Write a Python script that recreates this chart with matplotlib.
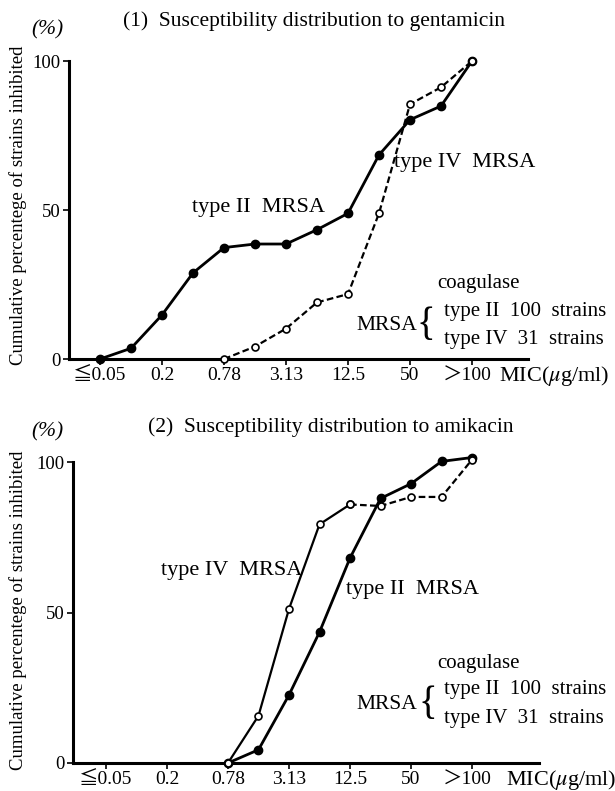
import matplotlib.pyplot as plt
import matplotlib.transforms as mtransforms

plt.rcParams['font.family'] = ['Liberation Serif', 'DejaVu Serif', 'Noto Sans CJK JP']
plt.rcParams['mathtext.fontset'] = 'stix'

# MIC dilution steps (only every second one is labelled)
mic_steps = ["≦0.05", "0.1", "0.2", "0.39", "0.78", "1.56", "3.13",
             "6.25", "12.5", "25", "50", "100", ">100"]
tick_labels = ["≦0.05", "0.2", "0.78", "3.13", "12.5", "50", "＞100"]

# (1) gentamicin
genta_x_type2 = list(range(0, 13))
genta_type2 = [0, 3.6, 14.8, 28.9, 37.4, 38.6, 38.6, 43.4, 48.9, 68.5, 80.3, 84.9, 100]
genta_x_type4 = list(range(4, 13))
genta_type4 = [0, 4.2, 10.2, 19.0, 21.8, 48.9, 85.5, 91.2, 100]

# (2) amikacin
amika_x = list(range(4, 13))
amika_type2 = [0, 4.4, 22.6, 43.5, 68.1, 87.9, 92.8, 100.2, 101.5]
amika_type4 = [0, 15.7, 51.2, 79.3, 85.9, 85.4, 88.4, 88.4, 100.8]

fig = plt.figure(figsize=(6.15, 7.91), dpi=100)
ax1 = fig.add_axes([0.1122, 0.5461, 0.746, 0.3767])
ax2 = fig.add_axes([0.1187, 0.0354, 0.758, 0.3805])

FS = 15.5


def style_axis(ax, xmin, xmax, mic_x):
    ax.set_xlim(xmin, xmax)
    ax.set_ylim(0, 100)
    for s in ["top", "right"]:
        ax.spines[s].set_visible(False)
    for s in ["left", "bottom"]:
        ax.spines[s].set_linewidth(2.2)
    ax.set_xticks(range(0, 13, 2))
    ax.set_xticklabels(tick_labels, fontsize=14)
    ax.set_yticks([0, 50, 100])
    ax.set_yticklabels(["0", "50", "100"], fontsize=13.5)
    ax.tick_params(direction="out", length=4, width=1.2, pad=2)
    # the ">" of the last label sits left of its tick
    last = ax.get_xticklabels()[-1]
    last.set_transform(last.get_transform() +
                       mtransforms.ScaledTranslation(-5 / 100, 0, fig.dpi_scale_trans))
    trans = mtransforms.blended_transform_factory(ax.transData, ax.transAxes)
    ax.text(mic_x, -0.016, "MIC($\\mu$g/ml)", transform=trans, ha="left",
            va="top", fontsize=16)


def legend_block(ax, xc, yc, xm, xb, xt, y2, y4):
    ax.text(xc, yc, "coagulase", ha="center", va="center", fontsize=15)
    ax.text(xm, (y2 + y4) / 2, "MRSA", ha="center", va="center", fontsize=15.5)
    ax.text(xb, (y2 + y4) / 2, "{", ha="center", va="center", fontsize=28)
    ax.text(xt, y2, "type II  100  strains", ha="left", va="center", fontsize=15)
    ax.text(xt, y4, "type IV  31  strains", ha="left", va="center", fontsize=15)


# panel 1
style_axis(ax1, -1.0, 13.8, 12.86)
ax1.plot(genta_x_type2, genta_type2, color="black", lw=2.0, marker="o",
         ms=6, mfc="black", clip_on=False, zorder=3)
ax1.plot(genta_x_type4, genta_type4, color="black", lw=1.6, ls=(0, (3, 1.5)),
         marker="o", ms=5, mfc="white", mew=1.2, clip_on=False, zorder=3)
ax1.text(5.1, 50.7, "type II  MRSA", ha="center", va="center", fontsize=16)
ax1.text(9.5, 65.8, "type IV  MRSA", ha="left", va="center", fontsize=16)
legend_block(ax1, 12.2, 25.5, 9.25, 10.5, 11.1, 15.8, 6.4)

# panel 2
style_axis(ax2, -1.08, 14.2, 13.1)
ax2.plot(amika_x, amika_type2, color="black", lw=2.0, marker="o",
         ms=6, mfc="black", clip_on=False, zorder=3)
ax2.plot(amika_x[:5], amika_type4[:5], color="black", lw=1.6,
         marker="o", ms=5, mfc="white", mew=1.2, clip_on=False, zorder=3)
ax2.plot(amika_x[4:], amika_type4[4:], color="black", lw=1.6, ls=(0, (3, 1.5)),
         marker="o", ms=5, mfc="white", mew=1.2, clip_on=False, zorder=3)
ax2.text(1.8, 64.1, "type IV  MRSA", ha="left", va="center", fontsize=16)
ax2.text(7.87, 57.5, "type II  MRSA", ha="left", va="center", fontsize=16)
legend_block(ax2, 12.2, 33.2, 9.2, 10.55, 11.07, 24.3, 14.9)

# titles and labels
fig.text(123 / 615, 1 - 21 / 791, "(1)  Susceptibility distribution to gentamicin",
         ha="left", va="center", fontsize=FS)
fig.text(148 / 615, 1 - 427 / 791, "(2)  Susceptibility distribution to amikacin",
         ha="left", va="center", fontsize=FS)
fig.text(47 / 615, 1 - 30 / 791, "(%)", ha="center", va="center", fontsize=FS,
         style="italic")
fig.text(47 / 615, 1 - 432 / 791, "(%)", ha="center", va="center", fontsize=FS,
         style="italic")
fig.text(18 / 615, 1 - 205 / 791, "Cumulative percentege of strains inhibited",
         rotation=90, ha="center", va="center", fontsize=13.5)
fig.text(18 / 615, 1 - 610 / 791, "Cumulative percentege of strains inhibited",
         rotation=90, ha="center", va="center", fontsize=13.5)

fig.savefig("out.png", dpi=100)
